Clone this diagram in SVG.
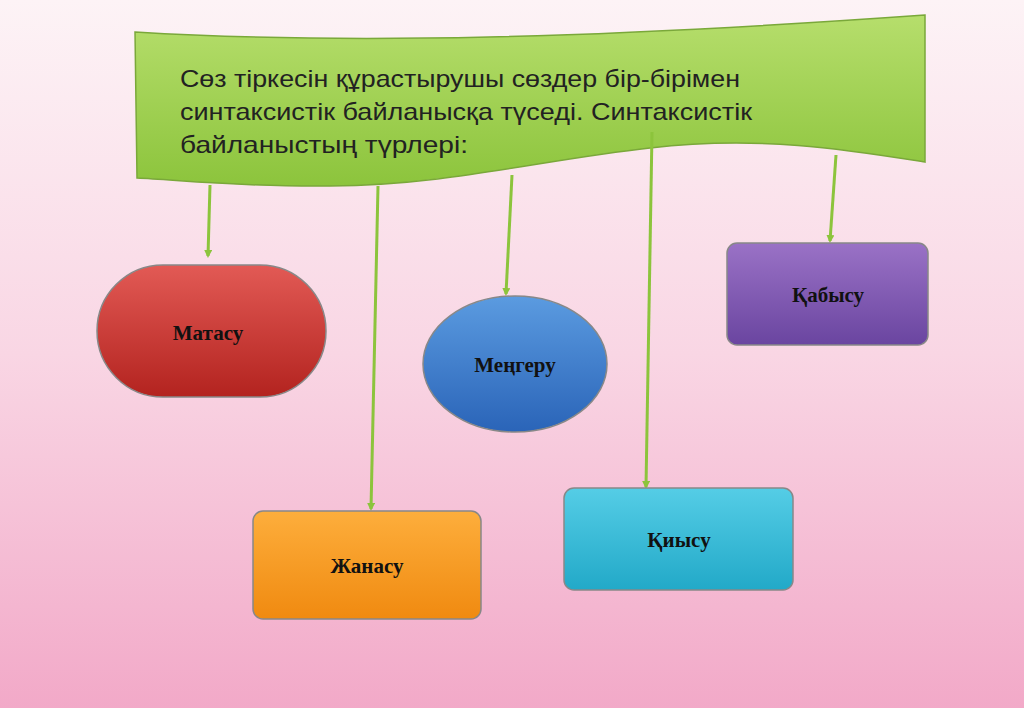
<svg xmlns="http://www.w3.org/2000/svg" width="1024" height="708" viewBox="0 0 1024 708">
<defs>
<linearGradient id="bg" x1="0" y1="0" x2="0" y2="1"><stop offset="0" stop-color="#fdf3f6"/><stop offset="0.5" stop-color="#f9d6e4"/><stop offset="1" stop-color="#f2a9c8"/></linearGradient>
<linearGradient id="gr" x1="0" y1="0" x2="0" y2="1"><stop offset="0" stop-color="#b6de6c"/><stop offset="1" stop-color="#8cc43c"/></linearGradient>
<linearGradient id="red" x1="0" y1="0" x2="0" y2="1"><stop offset="0" stop-color="#e25a55"/><stop offset="1" stop-color="#b3231f"/></linearGradient>
<linearGradient id="blue" x1="0" y1="0" x2="0" y2="1"><stop offset="0" stop-color="#5b9be0"/><stop offset="1" stop-color="#2a64b8"/></linearGradient>
<linearGradient id="pur" x1="0" y1="0" x2="0" y2="1"><stop offset="0" stop-color="#9a72c6"/><stop offset="1" stop-color="#6a45a0"/></linearGradient>
<linearGradient id="org" x1="0" y1="0" x2="0" y2="1"><stop offset="0" stop-color="#fdae3c"/><stop offset="1" stop-color="#f08a10"/></linearGradient>
<linearGradient id="cyan" x1="0" y1="0" x2="0" y2="1"><stop offset="0" stop-color="#55cde6"/><stop offset="1" stop-color="#22a9c8"/></linearGradient>
<marker id="ah" markerWidth="8" markerHeight="8" refX="6" refY="4" orient="auto" markerUnits="userSpaceOnUse"><path d="M0,0 L8,4 L0,8 Z" fill="#8cc43c"/></marker>
<style>
.n{stroke:#888;stroke-width:1.5}
.lbl{font-family:"Liberation Serif",serif;font-weight:bold;font-size:21px;fill:#111;text-anchor:middle}
.c{stroke:#8cc43c;stroke-width:3;fill:none;marker-end:url(#ah)}
.t{font-family:"Liberation Sans",sans-serif;font-size:24px;fill:#222}
</style>
</defs>
<rect width="1024" height="708" fill="url(#bg)"/>
<g id="banner">
<path d="M135,32 C350,45 600,38 925,15 L925,162 C850,150 760,135 650,148 C540,160 450,185 330,186 C240,187 180,180 137,178 Z" fill="url(#gr)" stroke="#7aa83a" stroke-width="1.5"/>
<text class="t" x="180" y="87" textLength="560" lengthAdjust="spacingAndGlyphs">Сөз тіркесін құрастырушы сөздер бір-бірімен</text>
<text class="t" x="180" y="120" textLength="572" lengthAdjust="spacingAndGlyphs">синтаксистік байланысқа түседі. Синтаксистік</text>
<text class="t" x="180" y="153" textLength="288" lengthAdjust="spacingAndGlyphs">байланыстың түрлері:</text>
</g>
<g id="connectors">
<line class="c" x1="210" y1="185" x2="208" y2="256"/>
<line class="c" x1="378" y1="186" x2="371" y2="509"/>
<line class="c" x1="512" y1="175" x2="506" y2="294"/>
<line class="c" x1="652" y1="132" x2="646" y2="487"/>
<line class="c" x1="836" y1="155" x2="830" y2="241"/>
</g>
<g id="matasu"><rect class="n" x="97" y="265" width="229" height="132" rx="66" fill="url(#red)"/><text class="lbl" x="208" y="340">Матасу</text></g>
<g id="menger"><ellipse class="n" cx="515" cy="364" rx="92" ry="68" fill="url(#blue)"/><text class="lbl" x="515" y="372">Меңгеру</text></g>
<g id="kabysu"><rect class="n" x="727" y="243" width="201" height="102" rx="10" fill="url(#pur)"/><text class="lbl" x="828" y="302">Қабысу</text></g>
<g id="zhanasu"><rect class="n" x="253" y="511" width="228" height="108" rx="10" fill="url(#org)"/><text class="lbl" x="367" y="573">Жанасу</text></g>
<g id="kiysu"><rect class="n" x="564" y="488" width="229" height="102" rx="10" fill="url(#cyan)"/><text class="lbl" x="679" y="547">Қиысу</text></g>
</svg>
